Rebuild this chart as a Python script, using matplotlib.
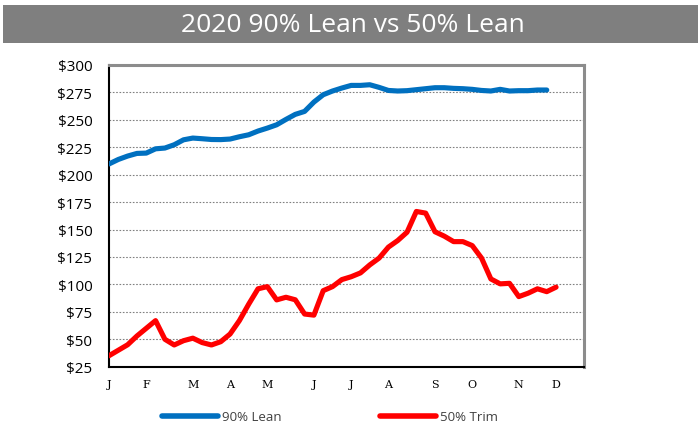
import matplotlib
matplotlib.use("Agg")
import matplotlib.pyplot as plt
from matplotlib.patches import Rectangle
from matplotlib.lines import Line2D
from matplotlib.ticker import FuncFormatter

# ---- data (weekly, 2020) ----
lean90 = [209.8, 213.9, 217.0, 219.4, 219.7, 223.6, 224.3, 227.3, 231.8, 233.4,
          232.8, 232.1, 232.0, 232.5, 234.6, 236.4, 239.8, 242.5, 245.5, 250.4,
          255.0, 257.7, 266.2, 272.9, 276.3, 279.0, 281.4, 281.4, 282.0, 279.6,
          276.8, 276.3, 276.6, 277.5, 278.4, 279.3, 279.3, 278.7, 278.4, 277.8,
          276.8, 276.3, 277.8, 276.3, 276.6, 276.6, 277.2, 277.2]
trim50 = [35.0, 40.0, 45.0, 53.0, 60.0, 67.0, 50.0, 44.8, 48.7, 51.0,
          47.0, 44.8, 47.8, 54.8, 67.0, 82.0, 96.0, 98.0, 85.9, 88.3,
          86.0, 73.0, 72.0, 94.3, 98.0, 104.4, 107.0, 110.5, 117.8, 124.0,
          134.0, 140.0, 147.6, 166.5, 165.0, 148.0, 144.0, 139.0, 139.0, 135.4,
          124.0, 105.0, 100.5, 101.0, 88.9, 92.0, 96.0, 93.4, 97.5]
month_labels = ["J", "F", "M", "A", "M", "J", "J", "A", "S", "O", "N", "D"]
month_weeks = [0, 4, 9, 13, 17, 22, 26, 30, 35, 39, 44, 48]
series_names = ["90% Lean", "50% Trim"]
title = "2020 90% Lean vs 50% Lean"

W, H = 698, 435
fig = plt.figure(figsize=(W / 100, H / 100), dpi=100)

# title banner
fig.patches.append(Rectangle((3 / W, 1 - 44 / H), 695 / W, 38 / H,
                             transform=fig.transFigure, facecolor="#7f7f7f",
                             edgecolor="none", zorder=0))
fig.text(353 / W, 1 - 25 / H, title, ha="center", va="center", color="white",
         fontsize=19, family="Open Sans")

ax = fig.add_axes([109 / W, 1 - 367.7 / H, (584 - 109) / W, (367.7 - 66) / H])

x90 = list(range(len(lean90)))
x50 = list(range(len(trim50)))
ax.plot(x90, lean90, color="#0070c0", lw=3.7, solid_capstyle="round",
        solid_joinstyle="round", zorder=3)
ax.plot(x50, trim50, color="#ff0000", lw=3.7, solid_capstyle="round",
        solid_joinstyle="round", zorder=3)

ax.set_xlim(0, 51)
ax.set_ylim(25, 300)
ax.set_yticks(range(25, 301, 25))
ax.yaxis.set_major_formatter(FuncFormatter(lambda v, p: f"${int(v)}"))
ax.set_xticks(month_weeks)
ax.set_xticklabels(month_labels, family="DejaVu Serif", fontsize=8)
for lab in ax.get_yticklabels():
    lab.set_family("Open Sans")
    lab.set_fontsize(11)
ax.tick_params(axis="both", length=0)
ax.tick_params(axis="y", pad=12)
ax.tick_params(axis="x", pad=9)

for v in range(50, 300, 25):
    ax.axhline(v, color="#808080", lw=0.8, ls=(0, (1.5, 1.5)), zorder=1)

for s in ["left", "bottom"]:
    ax.spines[s].set_color("black")
    ax.spines[s].set_linewidth(1.5)
for s in ["top", "right"]:
    ax.spines[s].set_color("#8c8c8c")
    ax.spines[s].set_linewidth(2.2)

handles = [Line2D([0], [0], color="#0070c0", lw=4, solid_capstyle="round"),
           Line2D([0], [0], color="#ff0000", lw=4, solid_capstyle="round")]
leg = fig.legend(handles, series_names, loc="center", ncol=2,
                 bbox_to_anchor=(330 / W, 1 - 418 / H), frameon=False,
                 handlelength=4.2, handletextpad=0.3, columnspacing=7.5,
                 prop={"family": "Open Sans", "size": 9.5})
for t in leg.get_texts():
    t.set_color("#404040")

fig.savefig("out.png", dpi=100)
